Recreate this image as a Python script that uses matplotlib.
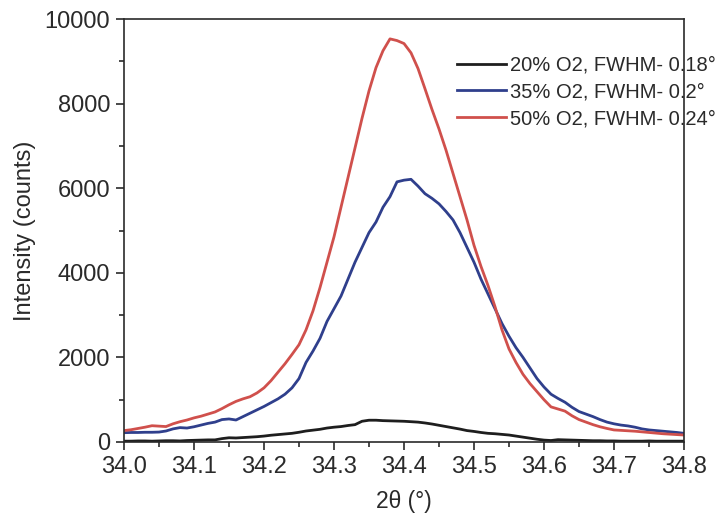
import matplotlib
matplotlib.use("Agg")
import matplotlib.pyplot as plt
from matplotlib.ticker import MultipleLocator

# 2theta grid, 0.01 deg steps
two_theta = [round(34.0 + 0.01 * i, 2) for i in range(81)]

o2_20 = [20, 20, 25, 25, 20, 25, 30, 30, 25, 35,
         40, 45, 50, 50, 80, 100, 95, 105, 115, 125,
         140, 160, 175, 190, 205, 230, 260, 280, 300, 330,
         350, 365, 390, 410, 490, 515, 515, 505, 500, 495,
         490, 480, 470, 450, 425, 395, 365, 335, 305, 270,
         250, 225, 205, 195, 180, 165, 140, 115, 90, 65,
         45, 35, 55, 50, 45, 40, 35, 30, 30, 25,
         25, 20, 20, 20, 20, 25, 20, 20, 20, 20, 20]

o2_35 = [220, 225, 225, 230, 230, 235, 260, 310, 340, 330,
         360, 400, 440, 470, 530, 545, 520, 600, 680, 760,
         840, 930, 1020, 1130, 1280, 1500, 1880, 2150, 2450, 2850,
         3150, 3450, 3850, 4250, 4600, 4950, 5200, 5550, 5800, 6150,
         6190, 6210, 6050, 5870, 5760, 5630, 5450, 5250, 4950, 4600,
         4250, 3850, 3500, 3150, 2800, 2500, 2230, 2000, 1750, 1500,
         1300, 1130, 1030, 940, 820, 720, 660, 600, 530, 470,
         430, 400, 380, 350, 310, 285, 270, 255, 240, 225, 205]

o2_50 = [270, 290, 320, 350, 385, 375, 365, 430, 480, 520,
         570, 610, 660, 710, 790, 880, 960, 1020, 1070, 1160,
         1280, 1450, 1650, 1850, 2070, 2300, 2650, 3100, 3650, 4250,
         4850, 5550, 6250, 6950, 7650, 8300, 8850, 9250, 9530, 9490,
         9420, 9200, 8830, 8350, 7860, 7400, 6900, 6350, 5800, 5250,
         4650, 4150, 3700, 3200, 2650, 2200, 1880, 1600, 1380, 1190,
         1000, 830, 780, 730, 620, 530, 470, 410, 360, 320,
         285, 275, 265, 255, 240, 225, 210, 195, 185, 175, 165]

labels = ["20% O2, FWHM- 0.18°", "35% O2, FWHM- 0.2°", "50% O2, FWHM- 0.24°"]
colors = ["#1e1e1e", "#2f3f8c", "#d0504c"]

plt.rcParams["font.family"] = ["Liberation Sans", "DejaVu Sans"]
ink = "#2a2a2a"

fig = plt.figure(figsize=(7.23, 5.27), dpi=100)
ax = fig.add_axes([124 / 723, 1 - 442 / 527, 560 / 723, 423 / 527])

for ys, lab, c in zip([o2_20, o2_35, o2_50], labels, colors):
    ax.plot(two_theta, ys, color=c, lw=2.0, label=lab)

ax.set_xlim(34.0, 34.8)
ax.set_ylim(0, 10000)
ax.xaxis.set_major_locator(MultipleLocator(0.1))
ax.xaxis.set_minor_locator(MultipleLocator(0.05))
ax.yaxis.set_major_locator(MultipleLocator(2000))
ax.yaxis.set_minor_locator(MultipleLocator(1000))
ax.xaxis.set_major_formatter(plt.FuncFormatter(lambda v, _: f"{v:.1f}"))

for s in ax.spines.values():
    s.set_linewidth(1.2)
    s.set_color(ink)
ax.tick_params(which="major", direction="out", length=6, width=1.2,
               labelsize=17, colors=ink, pad=4)
ax.tick_params(which="minor", direction="out", length=3.5, width=1.2, colors=ink)
ax.tick_params(top=False, right=False, which="both")

ax.set_xlabel("2θ (°)", fontsize=16.5, color=ink, labelpad=9)
ax.set_ylabel("Intensity (counts)", fontsize=17, color=ink, labelpad=6)

leg = ax.legend(loc="upper left", bbox_to_anchor=(0.594, 0.913), frameon=False,
                fontsize=14.5, handlelength=2.45, handletextpad=0.2,
                labelspacing=0.38, borderpad=0, borderaxespad=0)
for t in leg.get_texts():
    t.set_color(ink)
leg.set_zorder(0)

fig.savefig("out.png", dpi=100)
